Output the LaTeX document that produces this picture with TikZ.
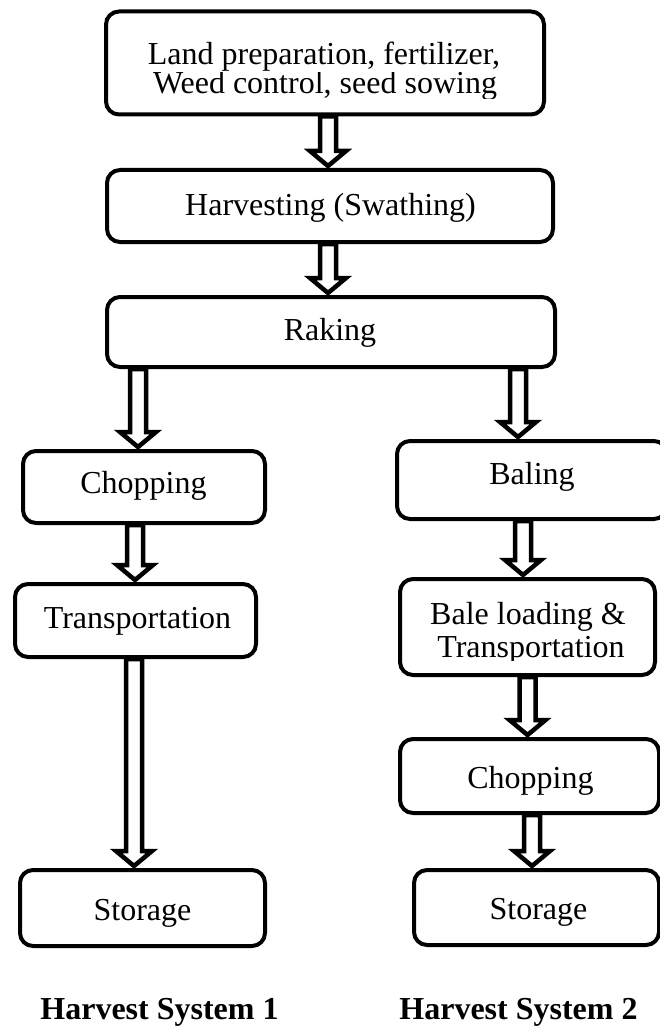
\documentclass[tikz,border=0pt]{standalone}
\usepackage{fontspec}
\setmainfont{Liberation Serif}
\usetikzlibrary{calc}

\tikzset{
  stage/.style={draw=black, line width=4pt, rounded corners=13pt, inner sep=0pt},
  steptext/.style={anchor=base, inner sep=0pt, font=\fontsize{32}{27}\selectfont},
  systext/.style={anchor=base, inner sep=0pt, font=\fontsize{32}{27}\selectfont\bfseries},
  flowline/.style={draw=black, fill=white, line width=4.5pt, line join=miter, miter limit=10}
}

% hollow block arrow at horizontal position #1 from node #2 down to node #3
\newcommand{\flowarrow}[3]{%
  \path (#1,0 |- #2.south) coordinate (fa-s) (#1,0 |- #3.north) coordinate (fa-t);
  \draw[flowline] ($(fa-s)+(-8,0)$) -- ($(fa-t)+(-8,-17)$) -- ($(fa-t)+(-18,-17)$)
    -- ($(fa-t)+(0,-2)$) -- ($(fa-t)+(18,-17)$) -- ($(fa-t)+(8,-17)$)
    -- ($(fa-s)+(8,0)$) -- cycle;
}

\begin{document}
\begin{tikzpicture}[x=1pt,y=-1pt]
  \clip (0,0) rectangle (660,1027);
  \fill[white] (0,0) rectangle (660,1027);

  % common stages
  \node[stage, minimum width=438pt, minimum height=103pt] (land) at (325,63) {};
  \node[stage, minimum width=446pt, minimum height=72pt] (harv) at (330,206) {};
  \node[stage, minimum width=448pt, minimum height=70pt] (rake) at (331,332) {};

  % harvest system 1
  \node[stage, minimum width=242pt, minimum height=72pt] (chopA) at (144,487) {};
  \node[stage, minimum width=241pt, minimum height=73pt] (transA) at (135.5,620.5) {};
  \node[stage, minimum width=245pt, minimum height=76pt] (storA) at (142.5,908) {};

  % harvest system 2
  \node[stage, minimum width=270pt, minimum height=78pt] (bale) at (532,480) {};
  \node[stage, minimum width=255pt, minimum height=96pt] (load) at (527.5,627) {};
  \node[stage, minimum width=259pt, minimum height=74pt] (chopB) at (529.5,776) {};
  \node[stage, minimum width=245pt, minimum height=75pt] (storB) at (536.5,907.5) {};

  % texts
  \node[steptext] (land-a) at (324,65) {Land preparation, fertilizer,};
  \begin{scope}
    \clip (100,72.5) rectangle (560,98.5);
    \node[steptext] (land-b) at (325,94) {Weed control, seed sowing};
  \end{scope}
  \node[steptext] (harv-t) at (330.5,215) {Harvesting (Swathing)};
  \node[steptext] (rake-t) at (330,340) {Raking};
  \node[steptext] (chopA-t) at (143.5,493) {Chopping};
  \node[steptext] (transA-t) at (137.5,628) {Transportation};
  \node[steptext] (storA-t) at (142.5,920) {Storage};
  \node[steptext] (bale-t) at (532,484) {Baling};
  \node[steptext] (load-a) at (528,624) {Bale loading \&};
  \begin{scope}
    \clip (400,632) rectangle (655,660);
    \node[steptext] (load-b) at (531,657) {Transportation};
  \end{scope}
  \node[steptext] (chopB-t) at (530.5,788) {Chopping};
  \node[steptext] (storB-t) at (538.5,919) {Storage};

  \node[systext] (sys1) at (159.5,1019) {Harvest System 1};
  \node[systext] (sys2) at (518.5,1019) {Harvest System 2};

  % connectors
  \flowarrow{328}{land}{harv}
  \flowarrow{328}{harv}{rake}
  \flowarrow{138}{rake}{chopA}
  \flowarrow{518}{rake}{bale}
  \flowarrow{135}{chopA}{transA}
  \flowarrow{523}{bale}{load}
  \flowarrow{134}{transA}{storA}
  \flowarrow{527.5}{load}{chopB}
  \flowarrow{532}{chopB}{storB}
\end{tikzpicture}
\end{document}
